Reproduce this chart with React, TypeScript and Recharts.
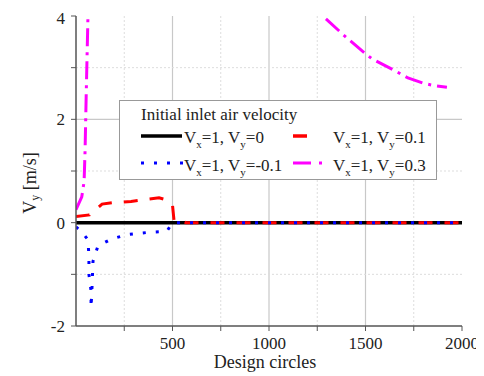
import React from 'react';
import { LineChart, Line, XAxis, YAxis, ReferenceLine } from 'recharts';

const xTicks = [250, 500, 750, 1000, 1250, 1500, 1750, 2000];
const xLabeled = [500, 1000, 1500, 2000];
const yTicks = [-2, -1, 0, 1, 2, 3, 4];
const yLabeled = [-2, 0, 2, 4];
const xMajorGrid = [500, 1000, 1500];
const xMinorGrid = [250, 750, 1250, 1750];
const yMajorGrid = [2];
const yMinorGrid = [-1, 1, 3];

const legendTitle = 'Initial inlet air velocity';

// Vx=1, Vy=0
const seriesVy0 = [
  { x: 0, y: 0 },
  { x: 2000, y: 0 },
];

// Vx=1, Vy=0.1
const seriesVy01 = [
  { x: 0, y: 0.12 },
  { x: 70, y: 0.15 },
  { x: 135, y: 0.36 },
  { x: 200, y: 0.39 },
  { x: 285, y: 0.41 },
  { x: 360, y: 0.45 },
  { x: 430, y: 0.48 },
  { x: 470, y: 0.44 },
  { x: 500, y: 0.34 },
  { x: 508, y: 0.04 },
  { x: 530, y: 0.06 },
  { x: 570, y: 0 },
  { x: 2000, y: 0 },
];

// Vx=1, Vy=-0.1
const seriesVyM01 = [
  { x: 0, y: -0.08 },
  { x: 30, y: -0.18 },
  { x: 62, y: -0.33 },
  { x: 67, y: -0.66 },
  { x: 67, y: -1.0 },
  { x: 78, y: -1.32 },
  { x: 78, y: -1.64 },
  { x: 83, y: -1.25 },
  { x: 88, y: -0.75 },
  { x: 104, y: -0.56 },
  { x: 114, y: -0.45 },
  { x: 187, y: -0.31 },
  { x: 269, y: -0.23 },
  { x: 368, y: -0.19 },
  { x: 470, y: -0.17 },
  { x: 500, y: 0 },
  { x: 2000, y: 0 },
];

// Vx=1, Vy=0.3
const seriesVy03 = [
  { x: 0, y: 0.25 },
  { x: 30, y: 0.5 },
  { x: 42, y: 0.8 },
  { x: 47, y: 1.4 },
  { x: 53, y: 2.5 },
  { x: 62, y: 4.0 },
  { x: 70, y: 6.0 },
  { x: 1150, y: 4.5 },
  { x: 1285, y: 3.98 },
  { x: 1390, y: 3.62 },
  { x: 1487, y: 3.31 },
  { x: 1534, y: 3.17 },
  { x: 1663, y: 2.92 },
  { x: 1720, y: 2.8 },
  { x: 1798, y: 2.7 },
  { x: 1860, y: 2.65 },
  { x: 1922, y: 2.62 },
];

const FONT = '"Liberation Serif", serif';
const AXIS = '#555';

const tickStyle = { fill: '#222', fontSize: 17, fontFamily: FONT };

const YLabel = (props: any) => {
  const vb = props.viewBox || { x: 0, y: 0, width: 0, height: 0 };
  const cx = vb.x + 22;
  const cy = vb.y + vb.height / 2 + 12;
  return (
    <text
      x={cx}
      y={cy}
      transform={`rotate(-90, ${cx}, ${cy})`}
      textAnchor="middle"
      dominantBaseline="central"
      fontFamily={FONT}
      fontSize={18}
      fill="#222"
    >
      V<tspan fontSize={12} dy={5}>y</tspan>
      <tspan dy={-5}> [m/s]</tspan>
    </text>
  );
};

const XLabel = (props: any) => {
  const vb = props.viewBox || { x: 0, y: 0, width: 0, height: 0 };
  return (
    <text
      x={vb.x + vb.width / 2 - 4}
      y={vb.y + 42}
      textAnchor="middle"
      fontFamily={FONT}
      fontSize={18}
      fill="#222"
    >
      Design circles
    </text>
  );
};

const VLabel = ({ x, y, vx, vy }: { x: number; y: number; vx: string; vy: string }) => (
  <text x={x} y={y} fontFamily={FONT} fontSize={17} fill="#222">
    V<tspan fontSize={11} dy={5}>x</tspan>
    <tspan dy={-5}>{'=' + vx + ', V'}</tspan>
    <tspan fontSize={11} dy={5}>y</tspan>
    <tspan dy={-5}>{'=' + vy}</tspan>
  </text>
);

const LegendBox = () => (
  <div
    style={{
      position: 'absolute',
      left: 111,
      top: 92,
      width: 318,
      height: 80,
      border: '1.5px solid #999',
      background: '#fff',
      boxSizing: 'border-box',
    }}
  >
    <svg width={315} height={77} style={{ display: 'block', overflow: 'visible' }}>
      <text x={21} y={19} fontFamily={FONT} fontSize={17} fill="#222">
        {legendTitle}
      </text>
      <line x1={21} y1={35} x2={62} y2={35} stroke="#000" strokeWidth={3.5} />
      <VLabel x={64} y={42} vx="1" vy="0" />
      <line x1={173} y1={35} x2={187} y2={35} stroke="#ff0000" strokeWidth={3.5} />
      <VLabel x={213} y={42} vx="1" vy="0.1" />
      <line x1={21} y1={62} x2={64} y2={62} stroke="#0000ff" strokeWidth={3} strokeDasharray="3 10" />
      <VLabel x={64} y={70} vx="1" vy="-0.1" />
      <line x1={173} y1={62} x2={205} y2={62} stroke="#ff00ff" strokeWidth={3} strokeDasharray="18 8 3 20" />
      <VLabel x={213} y={70} vx="1" vy="0.3" />
    </svg>
  </div>
);

export default function App() {
  return (
    <div style={{ position: 'relative', width: 476, height: 368 }}>
      <LineChart
        width={476}
        height={368}
        margin={{ top: 8, right: 22, left: 0, bottom: 0 }}
      >
        <XAxis
          xAxisId={0}
          type="number"
          dataKey="x"
          domain={[0, 2000]}
          ticks={xTicks}
          allowDataOverflow
          height={50}
          tickSize={5}
          tickMargin={6}
          tick={tickStyle}
          tickLine={{ stroke: AXIS }}
          axisLine={{ stroke: AXIS, strokeWidth: 1.5 }}
          tickFormatter={(v: number) => (xLabeled.includes(v) ? String(v) : '')}
          label={<XLabel />}
        />
        <XAxis
          xAxisId="top"
          orientation="top"
          type="number"
          dataKey="x"
          domain={[0, 2000]}
          ticks={xTicks}
          height={0}
          mirror
          tickSize={5}
          tick={false}
          tickLine={{ stroke: AXIS }}
          axisLine={{ stroke: AXIS, strokeWidth: 1.5 }}
        />
        <YAxis
          yAxisId={0}
          type="number"
          domain={[-2, 4]}
          ticks={yTicks}
          allowDataOverflow
          width={68}
          tickSize={5}
          tickMargin={6}
          tick={tickStyle}
          tickLine={{ stroke: AXIS }}
          axisLine={{ stroke: AXIS, strokeWidth: 1.5 }}
          tickFormatter={(v: number) => (yLabeled.includes(v) ? String(v) : '')}
          label={<YLabel />}
        />
        <YAxis
          yAxisId="right"
          orientation="right"
          type="number"
          domain={[-2, 4]}
          ticks={yTicks}
          width={0}
          mirror
          tickSize={5}
          tick={false}
          tickLine={{ stroke: AXIS }}
          axisLine={{ stroke: AXIS, strokeWidth: 1.5 }}
        />
        {xMinorGrid.map((v) => (
          <ReferenceLine key={'xm' + v} x={v} stroke="#ddd" strokeDasharray="2 2" />
        ))}
        {xMajorGrid.map((v) => (
          <ReferenceLine key={'xM' + v} x={v} stroke="#c8c8c8" strokeWidth={1.2} />
        ))}
        {yMinorGrid.map((v) => (
          <ReferenceLine key={'ym' + v} y={v} stroke="#ddd" strokeDasharray="2 2" />
        ))}
        {yMajorGrid.map((v) => (
          <ReferenceLine key={'yM' + v} y={v} stroke="#c8c8c8" strokeWidth={1.2} />
        ))}
        <Line
          data={seriesVy0}
          dataKey="y"
          stroke="#000"
          strokeWidth={3.5}
          dot={false}
          isAnimationActive={false}
        />
        <Line
          data={seriesVy03}
          dataKey="y"
          stroke="#ff00ff"
          strokeWidth={3}
          strokeDasharray="18 6 3 6"
          dot={false}
          isAnimationActive={false}
        />
        <Line
          data={seriesVy01}
          dataKey="y"
          stroke="#ff0000"
          strokeWidth={3}
          strokeDasharray="14 12"
          dot={false}
          isAnimationActive={false}
        />
        <Line
          data={seriesVyM01}
          dataKey="y"
          stroke="#0000ff"
          strokeWidth={3}
          strokeDasharray="3 10"
          dot={false}
          isAnimationActive={false}
        />
      </LineChart>
      <LegendBox />
    </div>
  );
}
